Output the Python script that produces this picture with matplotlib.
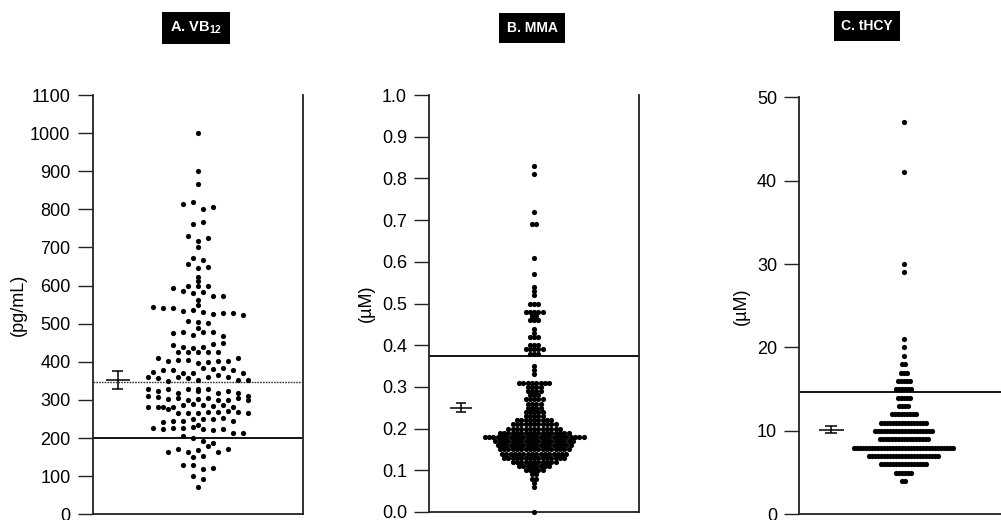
import numpy as np
import matplotlib
matplotlib.use("Agg")
import matplotlib.pyplot as plt
from matplotlib.ticker import FormatStrFormatter

plt.rcParams['font.family'] = ['Liberation Sans', 'DejaVu Sans']
plt.rcParams['mathtext.fontset'] = 'custom'
plt.rcParams['mathtext.bf'] = 'Liberation Sans:bold'
plt.rcParams['mathtext.rm'] = 'Liberation Sans'

# ---- data ----
# A. VB12 (pg/mL), listed roughly row by row, left to right
vb12 = [
    1000, 900, 866,
    814, 820, 800, 806,
    762, 766,
    730, 716, 724, 700,
    672, 656, 666, 647, 650,
    622,
    612, 600, 600, 600, 593, 587, 580, 582, 573, 573, 562,
    549, 543, 540, 540, 534, 536, 532, 525, 527, 527, 523,
    508, 505, 501, 488,
    475, 479, 470, 479, 479, 468,
    444, 440, 437, 440, 447, 449,
    427, 425, 427, 425, 425,
    409, 402, 405, 405, 396, 400, 402, 402, 409,
    374, 379, 379, 372, 370, 383, 380, 383, 379, 372,
    361, 358, 350, 361, 357, 352, 361, 365, 359, 352, 352,
    329, 324, 328, 319, 330, 328, 324, 328, 319, 324,
    317, 310, 309, 310, 302,
    304, 300, 302, 304, 300, 300, 304, 300,
    282, 281, 282, 281, 287, 289, 287, 284, 287, 275, 282,
    265, 267, 265, 269, 269, 272, 269, 265,
    243, 246, 246, 249, 249, 249, 252, 246,
    226, 223, 226, 226, 234, 228, 223, 221, 223, 213,
    205, 199, 191, 213, 188,
    164, 171, 164, 169, 178, 164, 171,
    150, 153, 129, 129,
    118, 122, 100, 93,
    71,
]
vb12_mean, vb12_lo, vb12_hi = 352, 330, 375
vb12_dotted = 348
vb12_cutoff = 200

# B. MMA (uM): distinct levels and how many dots sit on each
mma_levels = [0.00, 0.06, 0.07, 0.08, 0.09, 0.10, 0.11, 0.12, 0.13, 0.14,
              0.15, 0.16, 0.17, 0.18, 0.19, 0.20, 0.21, 0.22, 0.23, 0.24,
              0.25, 0.26, 0.27, 0.28, 0.29, 0.30, 0.31, 0.33, 0.34, 0.35,
              0.38, 0.39, 0.40, 0.42, 0.43, 0.44, 0.46, 0.47, 0.48, 0.50,
              0.52, 0.53, 0.54, 0.57, 0.61, 0.69, 0.72, 0.81, 0.83]
mma_counts = [1, 1, 1, 2, 2, 5, 8, 11, 15, 16,
              17, 18, 19, 24, 17, 13, 11, 9, 5, 5,
              4, 4, 5, 3, 4, 4, 8, 1, 1, 1,
              3, 5, 3, 3, 1, 1, 3, 2, 5, 3,
              1, 1, 1, 1, 1, 2, 1, 1, 1]
mma_mean, mma_lo, mma_hi = 0.25, 0.241, 0.261
mma_cutoff = 0.375

# C. tHCY (uM)
hcy_levels = [4, 5, 6, 7, 8, 9, 10, 11, 12, 13, 14, 15, 16, 17, 18, 19, 20, 21,
              29, 30, 41, 47]
hcy_counts = [2, 6, 16, 24, 34, 17, 20, 16, 9, 4, 5, 6, 5, 3, 2, 1, 1, 1,
              1, 1, 1, 1]
hcy_mean, hcy_lo, hcy_hi = 10.1, 9.7, 10.6
hcy_cutoff = 14.7


def swarm_x(vals, step, gap=1e-9, span=1e-9, cap=10**6):
    """Group sorted values into rows, then centre each row horizontally."""
    vals = np.asarray(vals, dtype=float)
    order = np.argsort(vals, kind='stable')
    xs = np.zeros(len(vals))
    rows, cur = [], []
    for i in order:
        if cur:
            v = vals[i]
            if (v - vals[cur[-1]] > gap or v - vals[cur[0]] > span
                    or len(cur) >= cap):
                rows.append(cur)
                cur = []
        cur.append(i)
    rows.append(cur)
    for r in rows:
        r = sorted(r)
        n = len(r)
        for k, i in enumerate(r):
            xs[i] = (k - (n - 1) / 2) * step
    return xs


W, H = 1001, 520
fig = plt.figure(figsize=(W / 100, H / 100), dpi=100)


def make_ax(left, top, bottom, right):
    ax = fig.add_axes([left / W, (H - bottom) / H, (right - left) / W, (bottom - top) / H])
    half = (right - left) / 2
    ax.set_xlim(-half, half)
    ax.spines['top'].set_visible(False)
    for s in ['left', 'right', 'bottom']:
        ax.spines[s].set_linewidth(1.3)
        ax.spines[s].set_color('#222222')
    ax.set_xticks([])
    ax.tick_params(axis='y', direction='out', length=11, width=1.0, pad=5,
                   labelsize=13, color='#222222')
    return ax


def mean_bar(ax, x, m, lo, hi, half=12, cap=5.5):
    ax.vlines(x, lo, hi, color='black', lw=1.1)
    ax.hlines([lo, hi], x - cap, x + cap, color='black', lw=1.1)
    ax.hlines(m, x - half, x + half, color='black', lw=1.1)


dot = 14

# ---- panel A ----
axA = make_ax(92.7, 95, 514.3, 302.7)
axA.set_ylim(0, 1100)
axA.set_yticks(np.arange(0, 1101, 100))
xa = swarm_x(vb12, 10, gap=8, span=20, cap=11)
axA.scatter(xa, vb12, s=dot, color='black', linewidths=0, clip_on=False, zorder=3)
axA.axhline(vb12_cutoff, color='black', lw=1.3)
axA.axhline(vb12_dotted, color='#333333', lw=1.0, ls=(0, (1.2, 0.8)))
mean_bar(axA, -79.7, vb12_mean, vb12_lo, vb12_hi)
axA.set_ylabel('(pg/mL)', fontsize=13, va='center')
axA.yaxis.set_label_coords((18 - 92.7) / 210, 0.5)

# ---- panel B ----
axB = make_ax(429.3, 95, 512, 639)
axB.set_ylim(0, 1.0)
axB.set_yticks(np.round(np.arange(0, 1.01, 0.1), 1))
axB.yaxis.set_major_formatter(FormatStrFormatter('%.1f'))
mma = np.repeat(mma_levels, mma_counts)
xb = swarm_x(mma, 4.3)
axB.scatter(xb, mma, s=dot, color='black', linewidths=0, clip_on=False, zorder=3)
axB.axhline(mma_cutoff, color='black', lw=1.3)
mean_bar(axB, -73, mma_mean, mma_lo, mma_hi, half=11.2, cap=5.3)
axB.set_ylabel('(\u00b5M)', fontsize=13, va='center')
axB.yaxis.set_label_coords((366.7 - 429.3) / 209.7, 0.5)

# ---- panel C ----
axC = make_ax(799.3, 97.3, 514.3, 1008.1)
axC.set_ylim(0, 50)
axC.set_yticks(np.arange(0, 51, 10))
hcy = np.repeat(hcy_levels, hcy_counts)
xc = swarm_x(hcy, 3.0)
axC.scatter(xc, hcy, s=dot, color='black', linewidths=0, clip_on=False, zorder=3)
axC.axhline(hcy_cutoff, color='black', lw=1.3)
mean_bar(axC, -72.7, hcy_mean, hcy_lo, hcy_hi, half=12.5, cap=5.8)
axC.set_ylabel('(\u00b5M)', fontsize=13, va='center')
axC.yaxis.set_label_coords((741.7 - 799.3) / 209, 0.5)

# ---- panel titles in black boxes ----
box = dict(boxstyle='square,pad=0.55', fc='black', ec='none')
fig.text(196 / W, 1 - 28 / H, r'A. VB$_{\mathbf{12}}$', color='white', fontsize=10.5,
         fontweight='bold', ha='center', va='center', bbox=box)
fig.text(532 / W, 1 - 28 / H, 'B. MMA', color='white', fontsize=10, fontweight='bold',
         ha='center', va='center', bbox=box)
fig.text(867 / W, 1 - 26 / H, 'C. tHCY', color='white', fontsize=10, fontweight='bold',
         ha='center', va='center', bbox=box)

fig.savefig('out.png', dpi=100)
